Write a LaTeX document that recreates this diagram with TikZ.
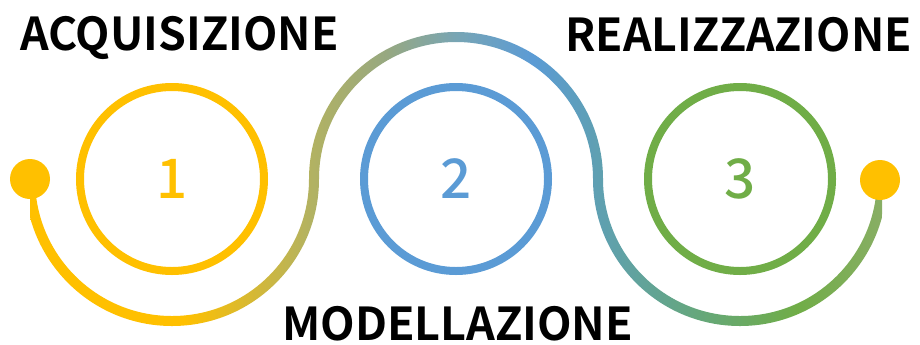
\documentclass[tikz,border=0pt]{standalone}
\usepackage{fontspec}
\newfontfamily\labelfont{Noto Sans CJK JP Bold}
\newfontfamily\numfont{Noto Sans CJK JP Medium}
\definecolor{stepyellow}{RGB}{255,192,0}
\definecolor{stepblue}{RGB}{91,155,213}
\definecolor{stepgreen}{RGB}{112,173,71}
\definecolor{waveolive}{RGB}{178,178,98}
\definecolor{wavesage}{RGB}{150,168,130}
\definecolor{wavegrey}{RGB}{120,165,180}
\definecolor{waveteal}{RGB}{95,160,176}
\definecolor{wavemint}{RGB}{102,168,116}
\definecolor{waveend}{RGB}{136,174,100}
\pgfdeclarehorizontalshading{wavefade}{100bp}{color(0bp)=(stepyellow); color(34bp)=(stepyellow); color(41.5bp)=(waveolive); color(46bp)=(wavesage); color(50bp)=(wavegrey); color(54.5bp)=(stepblue); color(58.5bp)=(waveteal); color(65bp)=(wavemint); color(70bp)=(stepgreen); color(75bp)=(waveend); color(100bp)=(waveend)}
\tikzset{
  stepring/.style={circle, draw=#1, line width=6pt, minimum size=138pt, inner sep=0pt,
    text=#1, font=\numfont\fontsize{41}{41}\selectfont},
  enddot/.style={circle, fill=stepyellow, minimum size=30pt, inner sep=0pt},
  phase/.style={inner sep=0pt, font=\labelfont\fontsize{34}{34}\selectfont}
}
\begin{document}
\begin{tikzpicture}[x=0.75pt,y=0.75pt,yscale=-1,xscale=1]
\useasboundingbox (0,0) rectangle (920,344);
%Wave with colour fade
\begin{scope}
\clip (25,179) arc[start angle=180,end angle=0,radius=147] -- (309,179) arc[start angle=0,end angle=180,radius=137] -- cycle
      (309,179) arc[start angle=180,end angle=360,radius=147] -- (593,179) arc[start angle=360,end angle=180,radius=137] -- cycle
      (593,179) arc[start angle=180,end angle=0,radius=147] -- (877,179) arc[start angle=0,end angle=180,radius=137] -- cycle;
\shade[shading=wavefade] (30,20) rectangle (882,330);
\end{scope}
%End dots
\node[enddot] (start) at (30,179) {};
\node[enddot] (finish) at (880,180) {};
%Shape: Circle
\node[stepring=stepyellow] (one) at (172,179) {1};
\node[stepring=stepblue] (two) at (456,179) {2};
\node[stepring=stepgreen] (three) at (740,179) {3};
% Text Node
\node[phase, anchor=base west] (acq) at (20,50) {\scalebox{0.985}[1]{ACQUISIZIONE}};
% Text Node
\node[phase, anchor=base west] (mod) at (282,340) {\scalebox{0.99}[1]{MODELLAZIONE}};
% Text Node
\node[phase, anchor=base east] (real) at (912,51) {\scalebox{0.983}[1]{REALIZZAZIONE}};
\end{tikzpicture}
\end{document}
